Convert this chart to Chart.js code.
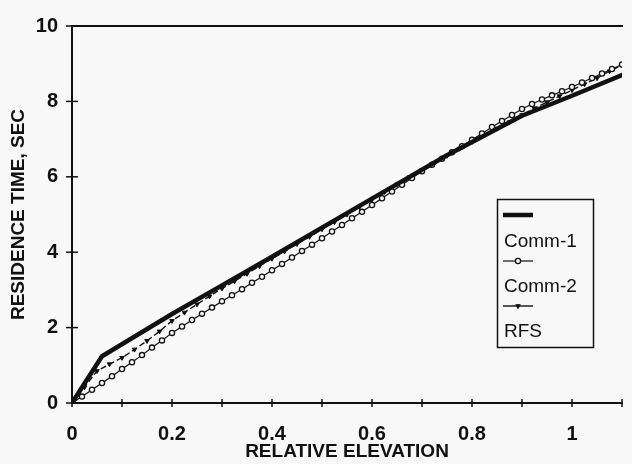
<!DOCTYPE html>
<html>
<head>
<meta charset="utf-8">
<script src="https://cdn.jsdelivr.net/npm/chart.js@4/dist/chart.umd.min.js"></script>
<style>
html,body{margin:0;padding:0;overflow:hidden;background:#f8f8f8;}
#wrap{position:absolute;left:0;top:0;width:641px;height:464px;}
</style>
</head>
<body>
<div id="wrap"><canvas id="c" width="641" height="464"></canvas></div>
<script>
// ---- data ----
const comm1X = [0, 0.06, 0.2, 0.3, 0.4, 0.6, 0.75, 0.9, 1.0, 1.1];
const comm1Y = [0, 1.24, 2.36, 3.12, 3.88, 5.42, 6.57, 7.62, 8.15, 8.7];

const comm2X = [0,0.02,0.04,0.06,0.08,0.1,0.12,0.14,0.16,0.18,0.2,0.22,0.24,0.26,0.28,0.3,0.32,0.34,0.36,0.38,0.4,0.42,0.44,0.46,0.48,0.5,0.52,0.54,0.56,0.58,0.6,0.62,0.64,0.66,0.68,0.7,0.72,0.74,0.76,0.78,0.8,0.82,0.84,0.86,0.88,0.9,0.92,0.94,0.96,0.98,1.0,1.02,1.04,1.06,1.08,1.1];
const comm2Y = [0,0.17,0.35,0.53,0.71,0.9,1.08,1.27,1.47,1.66,1.86,2.03,2.2,2.37,2.53,2.7,2.86,3.02,3.19,3.35,3.52,3.69,3.86,4.03,4.2,4.37,4.55,4.72,4.9,5.07,5.25,5.43,5.61,5.79,5.97,6.15,6.32,6.48,6.65,6.81,6.98,7.15,7.32,7.48,7.64,7.8,7.93,8.05,8.16,8.27,8.38,8.5,8.62,8.74,8.86,8.98];

const rfsX = [0,0.025,0.05,0.075,0.1,0.125,0.15,0.175,0.2,0.225,0.25,0.275,0.3,0.325,0.35,0.375,0.4,0.425,0.45,0.475,0.5,0.525,0.55,0.575,0.6,0.625,0.65,0.675,0.7,0.725,0.75,0.775,0.8,0.825,0.85,0.875,0.9,0.925,0.95,0.975,1.0,1.025,1.05,1.075,1.1];
const rfsY = [0,0.42,0.85,1.03,1.2,1.42,1.65,1.9,2.18,2.4,2.62,2.83,3.04,3.23,3.43,3.63,3.83,4.02,4.22,4.41,4.61,4.8,5.0,5.2,5.4,5.6,5.8,5.99,6.18,6.37,6.56,6.75,6.93,7.1,7.28,7.45,7.64,7.82,7.98,8.14,8.3,8.46,8.62,8.8,8.96];

const seriesNames = ['Comm-1', 'Comm-2', 'RFS'];
const xTickValues = [0, 0.2, 0.4, 0.6, 0.8, 1];
const xTickLabels = ['0', '0.2', '0.4', '0.6', '0.8', '1'];
const yTickValues = [0, 2, 4, 6, 8, 10];
const yTickLabels = ['0', '2', '4', '6', '8', '10'];
const xTitle = 'RELATIVE ELEVATION';
const yTitle = 'RESIDENCE TIME, SEC';

const toPts = (xs, ys) => xs.map((x, i) => ({x: x, y: ys[i]}));
const FONT = "'Liberation Sans', Arial, Helvetica, sans-serif";
const INK = '#111';

const crossTicks = {
  id: 'crossTicks',
  afterDraw(chart) {
    const ctx = chart.ctx, xs = chart.scales.x, ys = chart.scales.y;
    const by = chart.chartArea.bottom, lx = chart.chartArea.left;
    ctx.save();
    ctx.strokeStyle = INK;
    ctx.lineWidth = 1.5;
    xs.ticks.forEach(t => {
      const px = xs.getPixelForValue(t.value);
      ctx.beginPath(); ctx.moveTo(px, by - 4); ctx.lineTo(px, by + 4); ctx.stroke();
    });
    ys.ticks.forEach(t => {
      const py = ys.getPixelForValue(t.value);
      ctx.beginPath(); ctx.moveTo(lx - 6, py); ctx.lineTo(lx + 6, py); ctx.stroke();
    });
    ctx.restore();
  }
};

const boxLegend = {
  id: 'boxLegend',
  afterDraw(chart) {
    const ctx = chart.ctx;
    const bx = 497, by = 199, bw = 96, bh = 148;
    ctx.save();
    ctx.fillStyle = '#f8f8f8';
    ctx.fillRect(bx, by, bw, bh);
    ctx.strokeStyle = INK; ctx.lineWidth = 1.5;
    ctx.strokeRect(bx + 0.5, by + 0.5, bw, bh);
    const sampleY = [215, 261, 306];
    const textY = [242, 287, 332];
    chart.data.datasets.forEach((ds, i) => {
      ctx.save();
      ctx.strokeStyle = INK;
      ctx.lineWidth = ds.borderWidth;
      ctx.setLineDash([]);
      ctx.lineCap = 'butt';
      ctx.beginPath(); ctx.moveTo(503, sampleY[i]); ctx.lineTo(533, sampleY[i]); ctx.stroke();
      if (ds.pointRadius > 0) {
        ctx.fillStyle = ds.pointBackgroundColor;
        ctx.strokeStyle = ds.pointBorderColor;
        ctx.lineWidth = ds.pointBorderWidth;
        Chart.helpers.drawPoint(ctx, {pointStyle: ds.pointStyle, radius: ds.pointRadius, rotation: ds.pointRotation || 0, borderWidth: ds.pointBorderWidth}, 518, sampleY[i]);
      }
      ctx.restore();
      ctx.fillStyle = INK;
      ctx.font = "19px " + FONT;
      ctx.textBaseline = 'middle';
      ctx.textAlign = 'left';
      ctx.fillText(ds.label, 504, textY[i]);
    });
    ctx.restore();
  }
};

new Chart(document.getElementById('c'), {
  type: 'line',
  data: {
    datasets: [
      {
        label: seriesNames[0], data: toPts(comm1X, comm1Y),
        borderColor: INK, borderWidth: 4.5, pointRadius: 0, tension: 0,
        borderJoinStyle: 'round', borderCapStyle: 'round'
      },
      {
        label: seriesNames[1], data: toPts(comm2X, comm2Y),
        borderColor: INK, borderWidth: 1.2, tension: 0,
        pointStyle: 'circle', pointRadius: 2.6, pointBorderWidth: 1.3,
        pointBackgroundColor: '#f8f8f8', pointBorderColor: INK
      },
      {
        label: seriesNames[2], data: toPts(rfsX, rfsY),
        borderColor: INK, borderWidth: 1.4, borderDash: [6, 3], tension: 0,
        pointStyle: 'triangle', pointRotation: 180, pointRadius: 2.6, pointBorderWidth: 1,
        pointBackgroundColor: INK, pointBorderColor: INK
      }
    ]
  },
  options: {
    responsive: false,
    animation: false,
    devicePixelRatio: 1,
    layout: {padding: 0},
    plugins: {legend: {display: false}, tooltip: {enabled: false}},
    scales: {
      x: {
        type: 'linear', position: 'bottom', min: 0, max: 1.1,
        afterFit(s) { s.height = 61; },
        grid: {display: false, drawTicks: false},
        border: {display: true, color: INK, width: 2},
        ticks: {
          stepSize: 0.1, padding: 19, color: INK, maxRotation: 0, autoSkip: false,
          font: {family: FONT, size: 20, weight: 'bold'},
          callback(v) {
            const k = xTickValues.findIndex(t => Math.abs(t - v) < 1e-6);
            return k >= 0 ? xTickLabels[k] : '';
          }
        },
        title: {display: true, text: xTitle, color: INK, padding: {top: 0, bottom: 1},
          font: {family: FONT, size: 19, weight: 'bold'}}
      },
      xTop: {
        type: 'linear', position: 'top', min: 0, max: 1.1,
        afterFit(s) { s.height = 21; },
        grid: {display: false, drawTicks: false},
        border: {display: true, color: INK, width: 2},
        ticks: {display: false}
      },
      y: {
        type: 'linear', position: 'left', min: 0, max: 10,
        afterFit(s) { s.width = 72; },
        grid: {display: false, drawTicks: false},
        border: {display: true, color: INK, width: 2},
        ticks: {
          stepSize: 2, padding: 14, color: INK,
          font: {family: FONT, size: 20, weight: 'bold'},
          callback(v) {
            const k = yTickValues.findIndex(t => Math.abs(t - v) < 1e-6);
            return k >= 0 ? yTickLabels[k] : '';
          }
        },
        title: {display: true, text: yTitle, color: INK, padding: {top: 7, bottom: 0},
          font: {family: FONT, size: 19, weight: 'bold'}}
      }
    }
  },
  plugins: [crossTicks, boxLegend]
});
</script>
</body>
</html>
